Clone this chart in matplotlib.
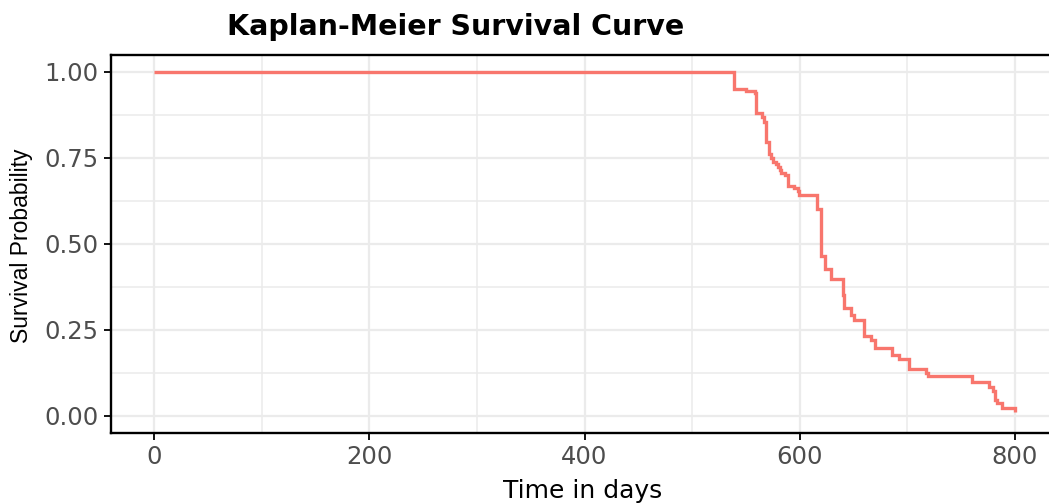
import matplotlib
matplotlib.use("Agg")
import matplotlib.pyplot as plt
from matplotlib.ticker import MultipleLocator

# Kaplan-Meier estimate
times = [0, 539, 550, 558.5, 559.5, 565, 567, 568.5, 571.5, 573.5,
         575.5, 577.5, 579.5, 581.5, 583, 586, 589.5, 594.5, 598, 599.5,
         616, 619.5, 623.5, 629.5, 640.5, 641.5, 648, 650, 660, 666,
         670, 686, 692.5, 701.5, 717, 719.5, 760.5, 776, 780, 781.5,
         783, 787.5, 800]
surv = [1.0, 0.950, 0.945, 0.938, 0.882, 0.870, 0.856, 0.797, 0.761, 0.749,
        0.739, 0.732, 0.723, 0.715, 0.707, 0.701, 0.669, 0.662, 0.654, 0.643,
        0.601, 0.465, 0.426, 0.398, 0.352, 0.315, 0.294, 0.279, 0.232, 0.220,
        0.196, 0.176, 0.166, 0.136, 0.124, 0.116, 0.097, 0.083, 0.071, 0.047,
        0.037, 0.022, 0.010]

x_ticks = [0, 200, 400, 600, 800]
y_ticks = [0.00, 0.25, 0.50, 0.75, 1.00]
y_tick_labels = ["0.00", "0.25", "0.50", "0.75", "1.00"]

title = "Kaplan-Meier Survival Curve"
xlabel = "Time in days"
ylabel = "Survival Probability"

W, H = 1049, 504
fig = plt.figure(figsize=(W / 100, H / 100), dpi=100)
ax = fig.add_axes([111 / W, (H - 433) / H, (1058 - 111) / W, (433 - 54.8) / H])

ax.plot(times, surv, drawstyle="steps-post", color="#F8766D", linewidth=2.4,
        solid_joinstyle="miter", solid_capstyle="butt", zorder=3)

ax.set_xlim(-40, 840)
ax.set_ylim(-0.05, 1.05)
ax.set_xticks(x_ticks)
ax.set_yticks(y_ticks)
ax.set_yticklabels(y_tick_labels)
ax.xaxis.set_minor_locator(MultipleLocator(100))
ax.yaxis.set_minor_locator(MultipleLocator(0.125))

ax.grid(True, which="major", color="#EBEBEB", linewidth=1.6, zorder=0)
ax.grid(True, which="minor", color="#EBEBEB", linewidth=1.1, zorder=0)
ax.set_axisbelow(True)

for side in ["left", "bottom", "top"]:
    ax.spines[side].set_linewidth(1.7)
    ax.spines[side].set_color("black")
ax.spines["right"].set_visible(False)

ax.tick_params(which="major", length=5, width=1.3, color="black",
               labelsize=17.5, labelcolor="#4D4D4D", pad=4)
ax.tick_params(which="minor", length=0)
for lab in ax.get_xticklabels() + ax.get_yticklabels():
    lab.set_fontfamily("DejaVu Sans")

fig.text(22 / W, 1 - 246 / H, ylabel, rotation=90, ha="center", va="center",
         fontsize=16.5, family="Liberation Sans", color="black")
fig.text(583 / W, 1 - 491 / H, xlabel, ha="center", va="center",
         fontsize=18, family="DejaVu Sans", color="black")
fig.text(456 / W, 1 - 27 / H, title, ha="center", va="center",
         fontsize=20.5, fontweight="bold", family="DejaVu Sans", color="black")

fig.savefig("out.png", dpi=100)
